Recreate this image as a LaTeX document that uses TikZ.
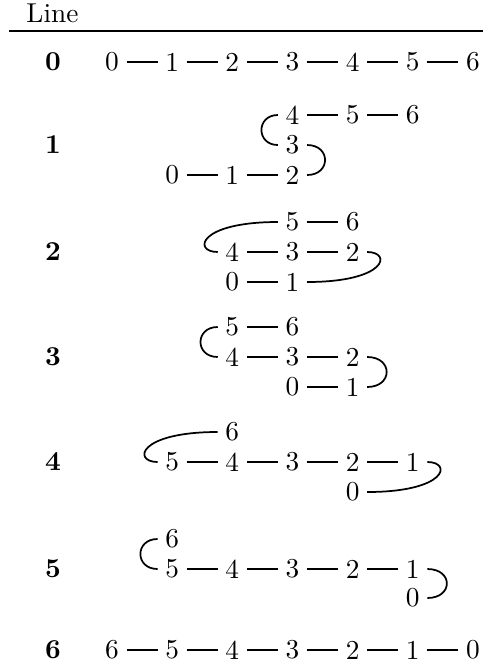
\documentclass[tikz,border=0pt]{standalone}
\usepackage{graphicx}
\newcommand{\szz}[1]{\scalebox{2.05}{#1}}
\newcommand{\szb}[1]{\scalebox{2.05}{\bfseries #1}}
\begin{document}
\begin{tikzpicture}[x=0.75pt,y=-0.75pt,
  num/.style={inner xsep=5.6pt, inner ysep=1pt},
  lbl/.style={inner sep=1pt},
  edge/.style={line width=1.3pt},
  rule/.style={line width=1.8pt}]
\useasboundingbox (0,0) rectangle (483,669);
% header
\node[inner sep=1pt] (hdr) at (52.5,13) {\szz{Line}};
\coordinate (rl) at (9,31);
\coordinate (rr) at (483,31);
\draw[rule] (rl) -- (rr);
% labels
\node[lbl] (L0) at (53,62) {\szb{0}};
\node[lbl] (L1) at (53,145) {\szb{1}};
\node[lbl] (L2) at (53,252) {\szb{2}};
\node[lbl] (L3) at (53,357) {\szb{3}};
\node[lbl] (L4) at (53,462) {\szb{4}};
\node[lbl] (L5) at (53,569) {\szb{5}};
\node[lbl] (L6) at (53,650) {\szb{6}};
% row 0
\foreach \i in {0,...,6} \node[num] (z\i) at ({112+60.15*\i},62) {\szz{\i}};
\foreach \i [count=\j from 1] in {0,...,5} \draw[edge] (z\i) -- (z\j);
% row 1
\node[num] (a4) at (292.5,115) {\szz{4}};
\node[num] (a5) at (352.6,115) {\szz{5}};
\node[num] (a6) at (412.8,115) {\szz{6}};
\node[num] (a3) at (292.5,145) {\szz{3}};
\node[num] (a0) at (172.2,175) {\szz{0}};
\node[num] (a1) at (232.3,175) {\szz{1}};
\node[num] (a2) at (292.5,175) {\szz{2}};
\draw[edge] (a0) -- (a1);
\draw[edge] (a1) -- (a2);
\draw[edge] (a4) -- (a5);
\draw[edge] (a5) -- (a6);
\draw[edge] (a2.east) .. controls +(24,0) and +(24,0) .. (a3.east);
\draw[edge] (a3.west) .. controls +(-22,0) and +(-22,0) .. (a4.west);
% row 2
\node[num] (b5) at (292.5,222) {\szz{5}};
\node[num] (b6) at (352.6,222) {\szz{6}};
\node[num] (b4) at (232.3,252) {\szz{4}};
\node[num] (b3) at (292.5,252) {\szz{3}};
\node[num] (b2) at (352.6,252) {\szz{2}};
\node[num] (b0) at (232.3,282) {\szz{0}};
\node[num] (b1) at (292.5,282) {\szz{1}};
\draw[edge] (b0) -- (b1);
\draw[edge] (b2) -- (b3);
\draw[edge] (b3) -- (b4);
\draw[edge] (b5) -- (b6);
\draw[edge] (b1.east) .. controls +(80,0) and +(25,0) .. (b2.east);
\draw[edge] (b5.west) .. controls +(-80,0) and +(-25,0) .. (b4.west);
% row 3
\node[num] (c5) at (232.3,327) {\szz{5}};
\node[num] (c6) at (292.5,327) {\szz{6}};
\node[num] (c4) at (232.3,357) {\szz{4}};
\node[num] (c3) at (292.5,357) {\szz{3}};
\node[num] (c2) at (352.6,357) {\szz{2}};
\node[num] (c0) at (292.5,387) {\szz{0}};
\node[num] (c1) at (352.6,387) {\szz{1}};
\draw[edge] (c0) -- (c1);
\draw[edge] (c2) -- (c3);
\draw[edge] (c3) -- (c4);
\draw[edge] (c5) -- (c6);
\draw[edge] (c1.east) .. controls +(26,0) and +(26,0) .. (c2.east);
\draw[edge] (c4.west) .. controls +(-23,0) and +(-23,0) .. (c5.west);
% row 4
\node[num] (d6) at (232.3,432) {\szz{6}};
\node[num] (d5) at (172.2,462) {\szz{5}};
\node[num] (d4) at (232.3,462) {\szz{4}};
\node[num] (d3) at (292.5,462) {\szz{3}};
\node[num] (d2) at (352.6,462) {\szz{2}};
\node[num] (d1) at (412.8,462) {\szz{1}};
\node[num] (d0) at (352.6,492) {\szz{0}};
\draw[edge] (d1) -- (d2);
\draw[edge] (d2) -- (d3);
\draw[edge] (d3) -- (d4);
\draw[edge] (d4) -- (d5);
\draw[edge] (d0.east) .. controls +(80,0) and +(25,0) .. (d1.east);
\draw[edge] (d6.west) .. controls +(-80,0) and +(-25,0) .. (d5.west);
% row 5
\node[num] (e6) at (172.2,539) {\szz{6}};
\node[num] (e5) at (172.2,569) {\szz{5}};
\node[num] (e4) at (232.3,569) {\szz{4}};
\node[num] (e3) at (292.5,569) {\szz{3}};
\node[num] (e2) at (352.6,569) {\szz{2}};
\node[num] (e1) at (412.8,569) {\szz{1}};
\node[num] (e0) at (412.8,598) {\szz{0}};
\draw[edge] (e1) -- (e2);
\draw[edge] (e2) -- (e3);
\draw[edge] (e3) -- (e4);
\draw[edge] (e4) -- (e5);
\draw[edge] (e1.east) .. controls +(26,0) and +(26,0) .. (e0.east);
\draw[edge] (e5.west) .. controls +(-23,0) and +(-23,0) .. (e6.west);
% row 6
\foreach \i in {0,...,6} {
  \pgfmathtruncatemacro{\v}{6-\i}
  \node[num] (s\i) at ({112+60.15*\i},650) {\szz{\v}};
}
\foreach \i [count=\j from 1] in {0,...,5} \draw[edge] (s\i) -- (s\j);
\end{tikzpicture}
\end{document}
